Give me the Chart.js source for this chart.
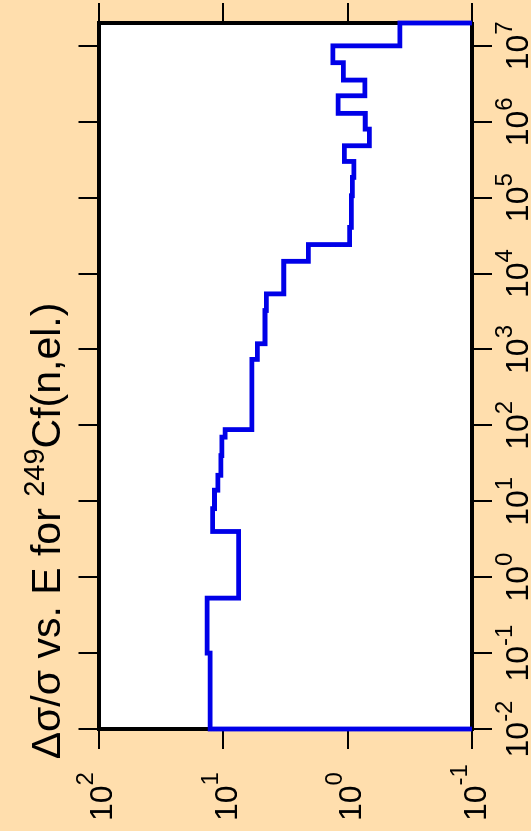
<!DOCTYPE html>
<html>
<head>
<meta charset="utf-8">
<script src="https://cdn.jsdelivr.net/npm/chart.js@4.4.1/dist/chart.umd.min.js"></script>
<style>
  html, body { margin: 0; padding: 0; background: #FFDEAD; overflow: hidden; }
  body { width: 531px; height: 831px; position: relative; }
  /* chart is drawn landscape and turned a quarter turn counter-clockwise */
  #wrap {
    position: absolute; left: 0; top: 0; width: 831px; height: 531px;
    transform-origin: 0 0; transform: translate(0, 831px) rotate(-90deg);
  }
</style>
</head>
<body>
<div id="wrap"><canvas id="chart" width="831" height="531"></canvas></div>
<script>
// group boundaries in energy (eV) and relative uncertainty in each group (%)
const E_EDGES = [0.01, 0.1, 0.53, 4, 8, 14, 22, 40, 70, 88, 740, 1190, 3260, 5400, 8600,
  14500, 24100, 40600, 1.06e5, 1.85e5, 3.0e5, 4.83e5, 8.0e5, 1.29e6, 2.2e6, 3.54e6,
  6.0e6, 1e7, 2e7];
const REL_ERR = [12.7, 13.4, 7.5, 12.1, 11.7, 11.0, 10.4, 10.2, 9.6, 5.86, 5.3, 4.6, 4.49,
  3.25, 3.25, 2.06, 0.96, 0.93, 0.914, 0.89, 1.06, 0.668, 0.72, 1.19, 0.725, 1.08,
  1.31, 0.38];

const E_TICKS = [1e-2, 1e-1, 1, 10, 100, 1e3, 1e4, 1e5, 1e6, 1e7];
const E_EXP = ['-2', '-1', '0', '1', '2', '3', '4', '5', '6', '7'];
const Y_TICKS = [0.1, 1, 10, 100];
const Y_EXP = ['-1', '0', '1', '2'];

const TITLE_PARTS = ['\u0394\u03c3/\u03c3 vs. E for ', '249', 'Cf(n,el.)'];

const FONT = 'Liberation Sans, Arial, sans-serif';
const BASE_FONT = '32px ' + FONT;
const EXP_FONT = '24px ' + FONT;

// histogram outline: rise from the bottom, one point per group, drop at the end
const points = [{ x: E_EDGES[0], y: 0.1 }];
REL_ERR.forEach((v, i) => points.push({ x: E_EDGES[i], y: v }));
points.push({ x: E_EDGES[E_EDGES.length - 1], y: REL_ERR[REL_ERR.length - 1] });
points.push({ x: E_EDGES[E_EDGES.length - 1], y: 0.1 });

const setTicks = (list) => (scale) => { scale.ticks = list.map((v) => ({ value: v })); };

const axisBase = (min, max, list, pos, size) => ({
  type: 'logarithmic',
  position: pos,
  min: min,
  max: max,
  afterBuildTicks: setTicks(list),
  afterFit: (s) => {
    if (pos === 'top' || pos === 'bottom') s.height = size;
    else s.width = size;
  },
  ticks: { display: false },
  grid: { drawOnChartArea: false, drawTicks: true, tickLength: 20, color: '#000', lineWidth: 2 },
  border: { display: true, width: 4, color: '#000' },
});

const powLabels = {
  id: 'powLabels',
  beforeDraw(chart) {
    const a = chart.chartArea;
    const ctx = chart.ctx;
    ctx.save();
    ctx.fillStyle = '#fff';
    ctx.fillRect(a.left, a.top, a.right - a.left, a.bottom - a.top);
    ctx.restore();
  },
  afterDraw(chart) {
    const ctx = chart.ctx;
    ctx.save();
    ctx.fillStyle = '#000';
    ctx.textAlign = 'left';
    ctx.textBaseline = 'alphabetic';

    const xs = chart.scales.x;
    E_TICKS.forEach((v, i) => {
      const px = xs.getPixelForValue(v);
      ctx.font = BASE_FONT;
      const wb = ctx.measureText('10').width;
      ctx.font = EXP_FONT;
      const we = ctx.measureText(E_EXP[i]).width;
      const x0 = px - (wb + we) / 2;
      ctx.font = BASE_FONT;
      ctx.fillText('10', x0, xs.top + 56);
      ctx.font = EXP_FONT;
      ctx.fillText(E_EXP[i], x0 + wb, xs.top + 40);
    });

    const ys = chart.scales.y;
    Y_TICKS.forEach((v, i) => {
      const py = ys.getPixelForValue(v);
      ctx.font = BASE_FONT;
      const wb = ctx.measureText('10').width;
      ctx.fillText('10', 10, py + 13.5);
      ctx.font = EXP_FONT;
      ctx.fillText(Y_EXP[i], 10 + wb, py - 5.5);
    });

    // title with superscript mass number
    const big = '41px ' + FONT;
    const small = '29px ' + FONT;
    ctx.font = big;
    const w1 = ctx.measureText(TITLE_PARTS[0]).width;
    const w3 = ctx.measureText(TITLE_PARTS[2]).width;
    ctx.font = small;
    const w2 = ctx.measureText(TITLE_PARTS[1]).width;
    let tx = 300 - (w1 + w2 + w3) / 2;
    const ty = 60;
    ctx.font = big;
    ctx.fillText(TITLE_PARTS[0], tx, ty);
    tx += w1;
    ctx.font = small;
    ctx.fillText(TITLE_PARTS[1], tx, ty - 16);
    tx += w2;
    ctx.font = big;
    ctx.fillText(TITLE_PARTS[2], tx, ty);
    ctx.restore();
  },
};

new Chart(document.getElementById('chart').getContext('2d'), {
  type: 'line',
  data: {
    datasets: [{
      data: points,
      stepped: true,
      borderColor: '#0000e8',
      borderWidth: 4.8,
      borderJoinStyle: 'miter',
      pointRadius: 0,
      fill: false,
      clip: false,
    }],
  },
  options: {
    responsive: false,
    animation: false,
    layout: { padding: 0 },
    plugins: { legend: { display: false }, tooltip: { enabled: false }, title: { display: false } },
    scales: {
      x: axisBase(1e-2, 2e7, E_TICKS, 'bottom', 59),
      x2: axisBase(1e-2, 2e7, E_TICKS, 'top', 98.5),
      y: axisBase(0.1, 100, Y_TICKS, 'left', 102),
      y2: axisBase(0.1, 100, Y_TICKS, 'right', 23),
    },
  },
  plugins: [powLabels],
});
</script>
</body>
</html>
